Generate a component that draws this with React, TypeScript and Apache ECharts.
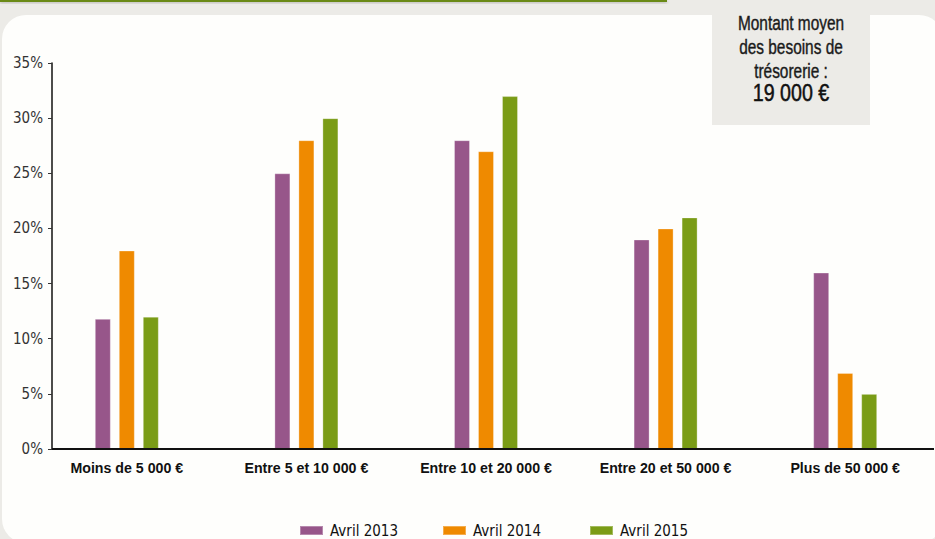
import React, { useEffect, useRef } from "react";
import * as echarts from "echarts";

// Montant des besoins de trésorerie, répartition par tranche (%)
const categories = [
  "Moins de 5 000 €",
  "Entre 5 et 10 000 €",
  "Entre 10 et 20 000 €",
  "Entre 20 et 50 000 €",
  "Plus de 50 000 €",
];
const seriesNames = ["Avril 2013", "Avril 2014", "Avril 2015"];
const avril2013 = [11.8, 25, 28, 19, 16];
const avril2014 = [18, 28, 27, 20, 6.9];
const avril2015 = [12, 30, 32, 21, 5];
const yTicks = [0, 5, 10, 15, 20, 25, 30, 35];
const boxLines = ["Montant moyen", "des besoins de", "trésorerie :"];
const boxValue = "19 000 €";

const colors = ["#97568a", "#ef8a00", "#7a9c16"];
const NARROW = '"Liberation Sans Narrow", "DejaVu Sans Condensed", sans-serif';
const SANS = '"Liberation Sans", Arial, sans-serif';
const BG = "#ecebe7";

export default function App() {
  const ref = useRef<HTMLDivElement>(null);

  useEffect(() => {
    if (!ref.current) return;
    const chart = echarts.init(ref.current, undefined, { renderer: "svg" });
    const values = [avril2013, avril2014, avril2015];
    const legendLefts = [299, 442, 589];

    chart.setOption({
      animation: false,
      backgroundColor: BG,
      grid: { left: 37, right: -23, top: 63, bottom: 90, containLabel: false },
      legend: seriesNames.map((name, i) => ({
        data: [name],
        left: legendLefts[i],
        top: 523,
        itemWidth: 23,
        itemHeight: 9,
        itemGap: 0,
        padding: 0,
        icon: "rect",
        textStyle: { fontFamily: NARROW, fontSize: 15, color: "#111", padding: [0, 0, 0, 2] },
      })),
      xAxis: {
        type: "category",
        data: categories,
        axisLine: { show: false },
        axisTick: { show: false },
        axisLabel: {
          margin: 12,
          fontFamily: SANS,
          fontWeight: "bold",
          fontSize: 14.2,
          color: "#111",
        },
      },
      yAxis: {
        type: "value",
        min: yTicks[0],
        max: yTicks[yTicks.length - 1],
        interval: 5,
        offset: -15,
        splitLine: { show: false },
        axisLine: { show: true, lineStyle: { color: "#111", width: 1.5 } },
        axisTick: { show: true, length: 4, lineStyle: { color: "#333", width: 1 } },
        axisLabel: {
          margin: 9,
          fontFamily: NARROW,
          fontSize: 15,
          color: "#333",
          formatter: (v: number) => `${v}%`,
        },
      },
      series: values.map((data, i) => ({
        type: "bar",
        name: seriesNames[i],
        data,
        barWidth: 16,
        barGap: "50%",
        itemStyle: {
          color: colors[i],
          borderColor: "rgba(255,255,255,0.3)",
          borderWidth: 1,
        },
      })),
      graphic: [
        {
          type: "rect",
          z: -10,
          silent: true,
          shape: { x: 2, y: 15, width: 941, height: 528, r: 24 },
          style: { fill: "#fefefc" },
        },
        {
          type: "rect",
          z: -9,
          silent: true,
          shape: { x: 0, y: 0, width: 667, height: 2 },
          style: {
            fill: "#6b8a12",
            shadowBlur: 3,
            shadowOffsetY: 1,
            shadowColor: "rgba(0,0,0,0.25)",
          },
        },
        {
          type: "rect",
          z: -8,
          silent: true,
          shape: { x: 712, y: 0, width: 158, height: 125 },
          style: { fill: BG },
        },
        ...boxLines.map((t, i) => ({
          type: "text",
          z: 5,
          silent: true,
          x: 791,
          y: 23 + i * 24,
          scaleX: 0.79,
          style: {
            text: t,
            fontFamily: SANS,
            fontSize: 19.5,
            fill: "#1a1a1a",
            stroke: "#1a1a1a",
            lineWidth: 0.4,
            align: "center",
            verticalAlign: "middle",
          },
        })),
        {
          type: "text",
          z: 5,
          silent: true,
          x: 791,
          y: 93,
          scaleX: 0.82,
          style: {
            text: boxValue,
            fontFamily: SANS,
            fontSize: 24,
            fill: "#111",
            stroke: "#111",
            lineWidth: 0.5,
            align: "center",
            verticalAlign: "middle",
          },
        },
        {
          type: "line",
          z: 5,
          silent: true,
          shape: { x1: 52, y1: 449, x2: 934, y2: 449 },
          style: { stroke: "#111", lineWidth: 2 },
        },
      ],
    });

    return () => chart.dispose();
  }, []);

  return (
    <div
      ref={ref}
      style={{ position: "fixed", left: 0, top: 0, width: 935, height: 539 }}
    />
  );
}
